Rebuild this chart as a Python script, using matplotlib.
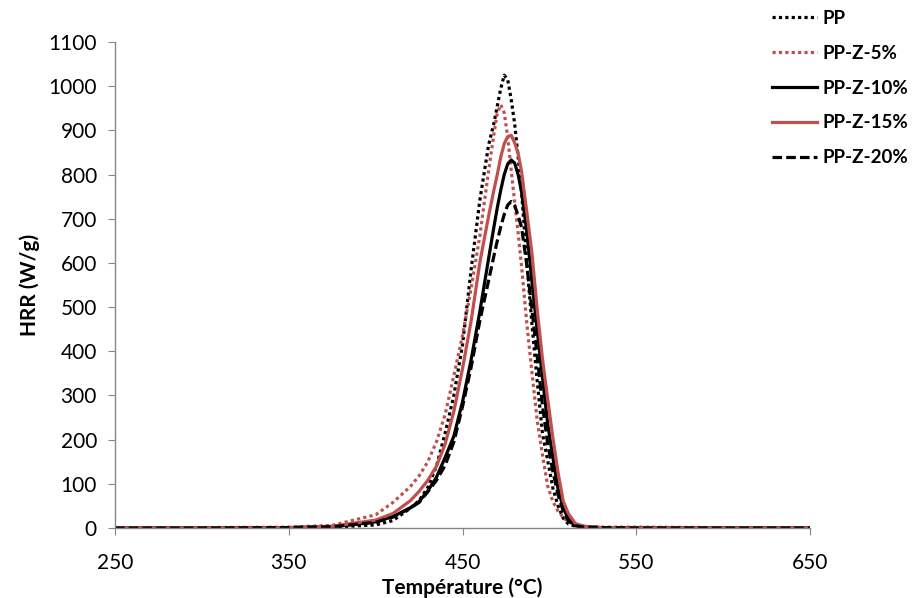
import matplotlib.pyplot as plt

# temperature grid (°C) and HRR values (W/g)
temperature = [250, 300, 350, 375, 400, 410, 420, 425, 430, 435, 440, 445, 450, 455,
               460, 465, 468, 470, 472, 474, 476, 478, 480, 482, 484, 487, 490, 493,
               496, 499, 502, 505, 508, 511, 515, 520, 530, 550, 600, 650]

hrr_pp = [0, 0, 1, 2, 7, 17, 45, 62, 92, 140, 215, 300, 415, 587,
          743, 867, 915, 955, 995, 1025, 1015, 970, 915, 840, 760, 600, 459, 332,
          214, 153, 90, 50, 22, 9, 4, 2, 1, 0, 0, 0]
hrr_z5 = [0, 1, 2, 6, 30, 58, 94, 118, 150, 195, 257, 345, 436, 544,
          662, 809, 890, 940, 958, 940, 885, 810, 738, 668, 591, 463, 350, 243,
          166, 95, 60, 38, 24, 14, 7, 4, 2, 2, 1, 1]
hrr_z10 = [0, 0, 1, 3, 14, 26, 46, 60, 84, 115, 160, 208, 286, 382,
           491, 610, 680, 725, 765, 800, 824, 833, 826, 800, 760, 670, 556, 447,
           341, 236, 160, 88, 45, 20, 6, 2, 1, 0, 0, 0]
hrr_z15 = [0, 0, 1, 4, 18, 33, 62, 83, 108, 140, 190, 264, 361, 470,
           602, 706, 764, 800, 840, 870, 886, 889, 872, 848, 806, 715, 620, 493,
           383, 292, 204, 125, 60, 32, 10, 4, 1, 0, 0, 0]
hrr_z20 = [0, 0, 1, 3, 13, 25, 45, 58, 82, 108, 142, 195, 275, 365,
           470, 560, 615, 650, 682, 710, 731, 739, 730, 707, 680, 595, 493, 388,
           277, 191, 128, 75, 38, 16, 5, 2, 1, 0, 0, 0]

labels = ['PP', 'PP-Z-5%', 'PP-Z-10%', 'PP-Z-15%', 'PP-Z-20%']

rouge = '#C0504D'
gris = '#868686'
plt.rcParams['font.family'] = ['Lato', 'DejaVu Sans']

fig = plt.figure(figsize=(9.15, 5.98), dpi=100)
ax = fig.add_axes([0.1257, 0.117, 0.7596, 0.8127])

pointille = (0, (1, 1))
ax.plot(temperature, hrr_pp, color='black', lw=2.3, ls=pointille, label=labels[0])
ax.plot(temperature, hrr_z5, color=rouge, lw=2.3, ls=pointille, label=labels[1])
ax.plot(temperature, hrr_z10, color='black', lw=2.3, label=labels[2])
ax.plot(temperature, hrr_z15, color=rouge, lw=2.3, label=labels[3])
ax.plot(temperature, hrr_z20, color='black', lw=2.3, ls=(0, (3, 1.3)), label=labels[4])

ax.set_xlim(250, 650)
ax.set_ylim(0, 1100)
ax.set_xticks(range(250, 651, 100))
ax.set_yticks(range(0, 1101, 100))

for s in ['top', 'right']:
    ax.spines[s].set_visible(False)
for s in ['left', 'bottom']:
    ax.spines[s].set_color(gris)
    ax.spines[s].set_linewidth(1)
ax.tick_params(axis='both', colors=gris, labelcolor='black', labelsize=15, length=5, direction='out')
ax.tick_params(axis='x', pad=13)
ax.tick_params(axis='y', pad=8)

ax.set_xlabel('Température (°C)', fontsize=15, fontweight='bold', labelpad=3)
ax.set_ylabel('HRR (W/g)', fontsize=15, fontweight='bold', labelpad=6)

# légende hors du cadre, en haut à droite
fig.legend(loc='upper left', bbox_to_anchor=(772 / 915, 1 - 10 / 598), frameon=False,
           prop={'weight': 'bold', 'size': 13.5}, handlelength=2.4,
           labelspacing=0.95, handletextpad=0.3, borderpad=0, borderaxespad=0)

plt.savefig('out.png', dpi=100)
